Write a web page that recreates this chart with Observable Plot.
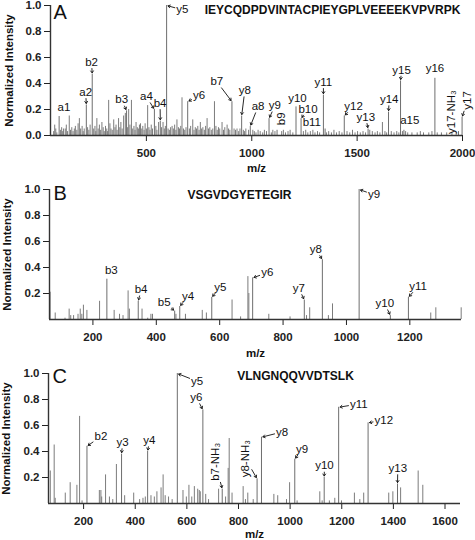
<!DOCTYPE html>
<html><head><meta charset="utf-8">
<script src="https://cdn.jsdelivr.net/npm/d3@7"></script>
<script src="https://cdn.jsdelivr.net/npm/@observablehq/plot@0.6"></script>
<style>
body{margin:0;background:#fff;}
#chart svg{display:block;}
</style></head><body><div id="chart"></div>
<script>
// ---------- DATA ----------
const seqA = "IEYCQDPDVINTACPIEYGPLVEEEEKVPVRPK";
const seqB = "VSGVDGYETEGIR";
const seqC = "VLNGNQQVVDTSLK";
const domainA = [45, 2000], domainB = [63, 1363], domainC = [64, 1660];
const xTicksA = [500, 1000, 1500, 2000];
const xTicksB = [200, 400, 600, 800, 1000, 1200];
const xTicksC = [200, 400, 600, 800, 1000, 1200, 1400, 1600];
const yTicksA = [0, 0.2, 0.4, 0.6, 0.8, 1.0];
const yTicksBC = [0.2, 0.4, 0.6, 0.8, 1.0];

// annotated ions: [label, m/z, intensity]
const ionsA = [["a1",86,0.146],["a2",215,0.235],["b2",243,0.47],["b3",406,0.19],["a4",538,0.20],["b4",566,0.11],["y5",596,1.0],["y6",696,0.26],["b7",906,0.26],["y8",952,0.15],["a8",993,0.07],["y9",1082,0.13],["b9",1120,0.04],["y10",1210,0.22],["b10",1234,0.13],["b11",1348,0.05],["y11",1340,0.31],["y12",1439,0.15],["y13",1552,0.05],["y14",1649,0.18],["y15",1706,0.42],["a15",1722,0.04],["y16",1869,0.44],["y17-NH₃",1981,0.03],["y17",1998,0.14]];
const labelAtA = [[109,0.213],[212,0.333],[240,0.564],[383,0.275],[500,0.30],[565,0.248],[671,0.967],[750,0.308],[834,0.415],[967,0.346],[1030,0.223],[1110,0.23],[1138,0.128],[1217,0.287],[1267,0.205],[1285,0.105],[1340,0.41],[1483,0.225],[1541,0.141],[1652,0.277],[1711,0.505],[1750,0.115],[1869,0.513],[1945,0.18],[2024,0.27]];
const verticalA = ["b9","y17-NH₃","y17"];

const ionsB = [["b3",244,0.31],["b4",343,0.14],["b5",458,0.065],["y4",474,0.10],["y5",575,0.17],["y6",704,0.32],["y7",867,0.15],["y8",924,0.46],["y9",1040,1.0],["y10",1138.5,0.03],["y11",1195.5,0.17]];
const labelAtB = [[258,0.38],[352,0.23],[425,0.135],[500,0.18],[602,0.25],[750,0.36],[850,0.24],[903,0.54],[1087,0.96],[1121,0.123],[1226,0.256]];
const verticalB = [];

const ionsC = [["b2",213,0.44],["y3",347,0.38],["y4",448,0.40],["y5",563,1.0],["y6",662,0.72],["b7-NH₃",737,0.11],["y8-NH₃",872,0.19],["y8",889,0.51],["y9",1018,0.34],["y10",1132,0.20],["y11",1188,0.74],["y12",1302,0.62],["y13",1416,0.15]];
const labelAtC = [[267,0.516],[351,0.47],[455,0.485],[640,0.94],[637,0.816],[710,0.32],[827,0.345],[969,0.55],[1046,0.42],[1133,0.29],[1266,0.766],[1363,0.643],[1417,0.27]];
const verticalC = ["b7-NH₃","y8-NH₃"];

// other peaks: [m/z, intensity]
const peaksA = [[65,.08],[107,.05],[134,.15],[163,.07],[182,.13],[265,.13],[289,.10],[321,.27],[345,.12],[368,.13],[392,.15],[400,.17],[416,.20],[429,.27],[451,.10],[472,.09],[506,.23],[558,.10],[579,.10],[622,.07],[645,.12],[669,.29],[720,.12],[756,.10],[788,.13],[823,.26],[859,.10],[883,.08],[930,.05],[1005,.04],[1620,.10]];
const noiseA = [[60,.03],[70,.05],[75,.02],[92,.04],[98,.06],[103,.03],[115,.05],[120,.08],[126,.03],[140,.04],[146,.06],[152,.03],[158,.05],[170,.04],[176,.09],[188,.05],[195,.07],[200,.03],[205,.05],[221,.06],[227,.04],[233,.08],[250,.05],[256,.07],[260,.03],[271,.05],[277,.08],[283,.04],[295,.06],[300,.03],[306,.07],[312,.05],[316,.03],[327,.09],[332,.05],[338,.04],[351,.06],[356,.08],[361,.04],[374,.06],[379,.10],[385,.05],[411,.06],[422,.08],[435,.05],[441,.07],[446,.04],[457,.06],[462,.05],[467,.08],[478,.05],[483,.07],[489,.04],[494,.09],[500,.05],[512,.06],[517,.04],[523,.08],[529,.05],[545,.07],[550,.04],[572,.06],[585,.05],[590,.07],[603,.05],[609,.04],[615,.06],[628,.05],[634,.08],[640,.04],[652,.06],[657,.05],[663,.07],[676,.05],[682,.04],[688,.06],[704,.05],[710,.07],[726,.04],[732,.06],[738,.05],[744,.07],[750,.04],[762,.05],[768,.06],[775,.04],[781,.07],[795,.05],[801,.06],[808,.04],[815,.05],[830,.07],[836,.04],[842,.06],[848,.05],[866,.04],[872,.06],[890,.05],[896,.04],[916,.05],[923,.04],[938,.03],[944,.05],[960,.04],[966,.03],[972,.05],[985,.04],[1012,.03],[1020,.02],[1030,.04],[1040,.03],[1052,.02],[1060,.04],[1070,.03],[1093,.02],[1100,.04],[1110,.03],[1142,.03],[1150,.04],[1160,.02],[1172,.03],[1182,.04],[1195,.02],[1245,.03],[1256,.04],[1266,.02],[1278,.03],[1290,.04],[1300,.02],[1312,.03],[1322,.02],[1355,.02],[1365,.03],[1378,.02],[1390,.04],[1402,.02],[1415,.03],[1428,.02],[1452,.03],[1465,.02],[1478,.04],[1490,.02],[1502,.03],[1515,.02],[1528,.03],[1540,.02],[1560,.04],[1572,.03],[1585,.02],[1596,.03],[1608,.02],[1632,.03],[1640,.02],[1662,.03],[1675,.02],[1688,.03],[1698,.02],[1715,.03],[1730,.03],[1740,.02],[1760,.02],[1785,.02],[1800,.03],[1815,.02],[1840,.02],[1855,.03],[1880,.02],[1900,.02],[1925,.02],[1950,.02],[1970,.02]];
const peaksB = [[65,.21],[81,.05],[112,.01],[125,.08],[130,.03],[139,.03],[153,.04],[160,.08],[165,.04],[170,.11],[181,.07],[221,.14],[267,.07],[284,.04],[295,.03],[311,.22],[315,.08],[355,.08],[373,.01],[383,.04],[388,.04],[462,.04],[492,.04],[545,.07],[558,.05],[639,.15],[666,.02],[689,.33],[692,.20],[755,.04],[822,.02],[874,.03],[884,.09],[943,.03],[956,.12],[1266,.05],[1282,.09],[1362,.09]];
const peaksC = [[71,.25],[86,.45],[90,.04],[129,.08],[148,.16],[174,.14],[184.5,.67],[194,.02],[261,.10],[267,.10],[270,.05],[285,.22],[300,.05],[313,.03],[327,.30],[359,.06],[394,.08],[417,.03],[430,.04],[439,.05],[461,.06],[474,.05],[484,.09],[500,.12],[508,.22],[516,.06],[529,.05],[543,.03],[585,.10],[598,.05],[608,.14],[619,.05],[629,.13],[642,.11],[648,.10],[652,.09],[673,.07],[684,.03],[723,.11],[750,.05],[760,.27],[764,.50],[775,.08],[818,.13],[827,.03],[836,.08],[857,.03],[937,.07],[952,.06],[986,.03],[998,.16],[1027,.02],[1115,.09],[1124,.02],[1152,.02],[1173,.04],[1199,.02],[1249,.08],[1270,.03],[1285,.08],[1382,.08],[1398,.09],[1428,.12],[1496,.25],[1514,.14]];

// ---------- DRAWING ----------
const FONT = "'Liberation Sans', Arial, Helvetica, sans-serif";
const ctx = document.createElement("canvas").getContext("2d");
function textW(s, size) { ctx.font = `${size}px ${FONT}`; return ctx.measureText(s).width; }
const W = 475, H = 180, LBL = 11.5;

function panel(c) {
  const pw = W - c.ml - c.mr, ph = H - c.mt - c.mb;
  const kx = pw / (c.domain[1] - c.domain[0]);
  const ions = c.ions.map((d, i) => ({name: d[0], mz: d[1], h: d[2], lx: c.labelAt[i][0], ly: c.labelAt[i][1], rot: c.vertical.includes(d[0])}));
  const arrows = [];
  for (const d of ions) {
    const dx = (d.mz - d.lx) * kx, dy = -(d.h - d.ly) * ph;
    const dist = Math.hypot(dx, dy);
    const ux = Math.abs(dx) / dist, uy = Math.abs(dy) / dist;
    const tw = textW(d.name, LBL) / 2 + 1.5, th = LBL * 0.42 + 1.5;
    const hw = d.rot ? th : tw, hh = d.rot ? tw : th;
    const s = Math.min(ux > 1e-6 ? hw / ux : Infinity, uy > 1e-6 ? hh / uy : Infinity);
    if (dist - s - 1.5 < 2.5) continue;
    arrows.push(Plot.arrow([d], {x1: "lx", y1: "ly", x2: "mz", y2: "h", insetStart: s, insetEnd: 1.5, headLength: 4, headAngle: 70, stroke: "#111", strokeWidth: 0.9}));
  }
  const marks = [
    ...c.extra.map(arr => Plot.ruleX(arr, {x: d => d[0], y1: 0, y2: d => d[1], stroke: "#7c7c7c", strokeWidth: 1})),
    Plot.ruleX(ions, {x: "mz", y1: 0, y2: "h", stroke: "#6e6e6e", strokeWidth: 1}),
    Plot.ruleY([0], {stroke: "#333", strokeWidth: 1.4}),
    Plot.ruleX([c.domain[0]], {y1: 0, y2: 1, stroke: "#333", strokeWidth: 1.4}),
    Plot.text(ions.filter(d => !d.rot), {x: "lx", y: "ly", text: "name", fontSize: LBL, fontWeight: "normal", fill: "#111"}),
    Plot.text(ions.filter(d => d.rot), {x: "lx", y: "ly", text: "name", rotate: -90, fontSize: LBL, fontWeight: "normal", fill: "#111"}),
    ...arrows,
    Plot.text([c.letter], {frameAnchor: "top-left", textAnchor: "start", lineAnchor: "middle", dx: c.letterDx, dy: c.letterDy, fontSize: 20, fontWeight: "normal", fill: "#111"}),
    Plot.text([c.seq], {frameAnchor: "top", textAnchor: "middle", lineAnchor: "middle", dx: c.seqDx, dy: c.seqDy, fontSize: 12, fontWeight: "bold", fill: "#111"}),
    Plot.text(["m/z"], {frameAnchor: "bottom", textAnchor: "middle", lineAnchor: "middle", dy: c.mzDy, fontSize: 11.5, fontWeight: "bold", fill: "#111"}),
    Plot.text(["Normalized Intensity"], {frameAnchor: "left", textAnchor: "middle", lineAnchor: "middle", rotate: -90, dx: c.titleDx, fontSize: 11.5, fontWeight: "bold", fill: "#111"})
  ];
  return Plot.plot({
    width: W, height: H,
    marginTop: c.mt, marginBottom: c.mb, marginLeft: c.ml, marginRight: c.mr,
    style: {fontFamily: FONT, fontSize: "11.5px", fontWeight: "bold", color: "#222", background: "white", overflow: "visible"},
    x: {domain: c.domain, ticks: c.xTicks, tickFormat: d => String(d), tickSize: 6, tickPadding: 7, label: null},
    y: {domain: [0, 1], ticks: c.yTicks, tickFormat: d => d.toFixed(1), tickSize: 6, tickPadding: 3, label: null},
    marks
  });
}

const root = document.getElementById("chart");
root.append(panel({domain: domainA, xTicks: xTicksA, yTicks: yTicksA, ions: ionsA, labelAt: labelAtA, vertical: verticalA, extra: [noiseA, peaksA],
  letter: "A", seq: seqA, mt: 5, mb: 45, ml: 50, mr: 13, letterDx: 3, letterDy: 7, seqDx: 76, seqDy: 5, mzDy: 33, titleDx: -41.5}));
root.append(panel({domain: domainB, xTicks: xTicksB, yTicks: yTicksBC, ions: ionsB, labelAt: labelAtB, vertical: verticalB, extra: [peaksB],
  letter: "B", seq: seqB, mt: 9, mb: 41, ml: 49, mr: 14, letterDx: 4, letterDy: 4.5, seqDx: -16, seqDy: 6, mzDy: 34, titleDx: -42}));
root.append(panel({domain: domainC, xTicks: xTicksC, yTicks: yTicksBC, ions: ionsC, labelAt: labelAtC, vertical: verticalC, extra: [peaksC],
  letter: "C", seq: seqC, mt: 13, mb: 37, ml: 48, mr: 15, letterDx: 4, letterDy: 3, seqDx: 41, seqDy: 2.5, mzDy: 31, titleDx: -42.5}));
</script></body></html>
